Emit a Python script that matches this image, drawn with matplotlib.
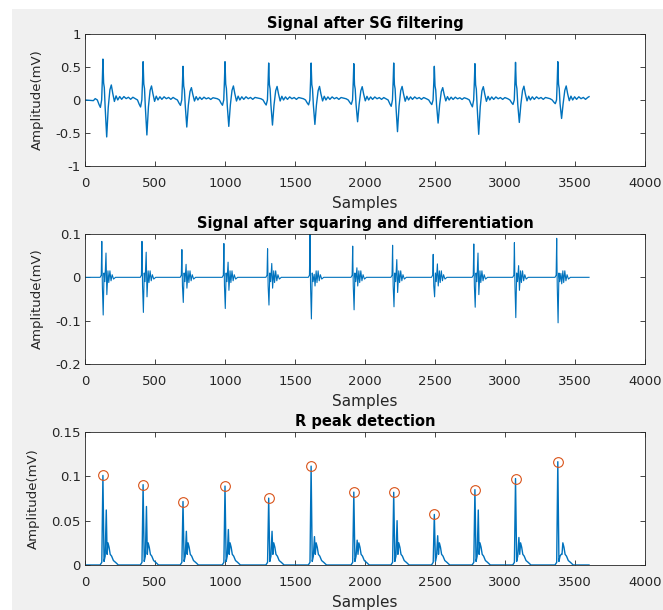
import matplotlib
matplotlib.use("Agg")
import matplotlib.pyplot as plt
from matplotlib.patches import Rectangle

# R peak positions (samples)
r_locs = [128, 415, 700, 1000, 1312, 1615, 1920, 2205, 2495, 2785, 3075, 3377]

# SG filtered signal: R height and S depth per beat (mV)
sg_r = [0.62, 0.58, 0.51, 0.58, 0.56, 0.56, 0.55, 0.56, 0.51, 0.55, 0.57, 0.58]
sg_s = [-0.56, -0.53, -0.41, -0.40, -0.38, -0.37, -0.33, -0.48, -0.35, -0.52, -0.34, -0.28]
# typical beat shape around the R peak (offset in samples, mV) for R=0.6, S=-0.5
sg_offsets = [-55, -40, -28, -18, -9, -4, 0, 5, 10, 16, 27, 38, 50, 60, 70, 82,
              94, 106, 120, 134, 150, 166, 182, 198, 214]
sg_shape = [0.02, 0.0, -0.06, -0.1, 0.0, 0.3, 0.6, 0.25, 0.18, -0.1, -0.5, -0.1,
            0.15, 0.22, 0.1, -0.02, 0.06, 0.0, 0.05, 0.01, 0.05, 0.02, 0.04, 0.01, 0.04]

# squared / differentiated signal per beat
sq_p1 = [0.083, 0.083, 0.064, 0.078, 0.066, 0.100, 0.072, 0.074, 0.053, 0.077, 0.080, 0.090]
sq_n1 = [-0.087, -0.081, -0.058, -0.072, -0.064, -0.096, -0.075, -0.068, -0.045, -0.069, -0.093, -0.105]
sq_p2 = [0.056, 0.058, 0.030, 0.035, 0.032, 0.007, 0.022, 0.041, 0.031, 0.056, 0.027, 0.009]
sq_n2 = [-0.040, -0.045, -0.025, -0.030, -0.025, -0.020, -0.020, -0.035, -0.020, -0.040, -0.030, -0.015]
sq_offsets = [-20, -12, -8, -4, 2, 8, 14, 22, 28, 36, 42, 50, 58, 66, 76, 90]

# R peak detection signal
pk_vals = [0.101, 0.0906, 0.0716, 0.089, 0.0754, 0.1115, 0.0822, 0.082, 0.057, 0.085, 0.0975, 0.1165]
pk_sec = [0.062, 0.066, 0.038, 0.040, 0.038, 0.032, 0.028, 0.050, 0.033, 0.062, 0.031, 0.012]
pk_offsets = [-20, -8, 0, 8, 16, 24, 30, 36, 44, 52, 62, 75, 90, 110]

n_samples = 3600

# build the three traces from the beat data
sg_x, sg_y = [0, 60], [0.0, -0.01]
for r, ra, sa in zip(r_locs, sg_r, sg_s):
    for off, v in zip(sg_offsets, sg_shape):
        sg_x.append(r + off)
        sg_y.append(v * ra / 0.6 if v > 0 else v * sa / -0.5)
sg_x += [n_samples]
sg_y += [0.05]

sq_x, sq_y = [0], [0.0]
for r, p1, n1, p2, n2 in zip(r_locs, sq_p1, sq_n1, sq_p2, sq_n2):
    vals = [0, 0.005, p1, -0.02, n1, 0.01, -0.01, p2, n2, 0.015, -0.012, 0.015,
            -0.008, 0.006, -0.004, 0]
    sq_x += [r + o for o in sq_offsets]
    sq_y += vals
sq_x += [n_samples]
sq_y += [0.0]

pk_x, pk_y = [0], [0.0]
for r, pv, sv in zip(r_locs, pk_vals, pk_sec):
    vals = [0, 0.003, pv, 0.004, 0.01, sv, 0.012, 0.025, 0.02, 0.012, 0.01, 0.005, 0.003, 0]
    pk_x += [r + o for o in pk_offsets]
    pk_y += vals
pk_x += [n_samples]
pk_y += [0.0]

line_col = "#0072BD"
mark_col = "#D95319"
ax_col = "#262626"

plt.rcParams["font.family"] = ["DejaVu Sans"]

fig = plt.figure(figsize=(6.63, 6.10), dpi=100, facecolor="white")
fig.add_artist(Rectangle((12 / 663, 0), 1 - 12 / 663, 1 - 9 / 610,
                         transform=fig.transFigure, facecolor="#F0F0F0",
                         edgecolor="none", zorder=-5))

ax1 = fig.add_axes([0.1282, 0.7279, 0.8447, 0.2164])
ax2 = fig.add_axes([0.1282, 0.4033, 0.8447, 0.2131])
ax3 = fig.add_axes([0.1282, 0.0738, 0.8447, 0.2180])

ax1.plot(sg_x, sg_y, color=line_col, lw=1.0)
ax2.plot(sq_x, sq_y, color=line_col, lw=0.8)
ax3.plot(pk_x, pk_y, color=line_col, lw=1.0)
ax3.plot(r_locs, pk_vals, "o", mfc="none", mec=mark_col, ms=7, mew=0.8)

titles = ["Signal after SG filtering", "Signal after squaring and differentiation",
          "R peak detection"]
ylims = [(-1, 1), (-0.2, 0.1), (0, 0.15)]
yticks = [[-1, -0.5, 0, 0.5, 1], [-0.2, -0.1, 0, 0.1], [0, 0.05, 0.1, 0.15]]
ytick_labels = [["-1", "-0.5", "0", "0.5", "1"], ["-0.2", "-0.1", "0", "0.1"],
                ["0", "0.05", "0.1", "0.15"]]
ylab_x = [-0.073, -0.073, -0.080]

for ax, t, yl, yt, ytl, lx in zip([ax1, ax2, ax3], titles, ylims, yticks, ytick_labels, ylab_x):
    ax.set_facecolor("white")
    ax.set_xlim(0, 4000)
    ax.set_ylim(*yl)
    ax.set_xticks(range(0, 4001, 500))
    ax.set_yticks(yt)
    ax.set_yticklabels(ytl)
    ax.set_title(t, fontsize=10.5, fontweight="bold", pad=4, color="black")
    ax.set_xlabel("Samples", fontsize=11, color=ax_col, labelpad=4)
    ax.set_ylabel("Amplitude(mV)", fontsize=9.5, color=ax_col)
    ax.yaxis.set_label_coords(lx, 0.5)
    ax.tick_params(direction="in", top=True, right=True, length=3.5, width=0.6,
                   labelsize=9.5, colors=ax_col)
    ax.tick_params(axis="x", pad=8)
    ax.tick_params(axis="y", pad=3)
    for s in ax.spines.values():
        s.set_color(ax_col)
        s.set_linewidth(0.6)

fig.savefig("out.png", dpi=100, facecolor=fig.get_facecolor())
